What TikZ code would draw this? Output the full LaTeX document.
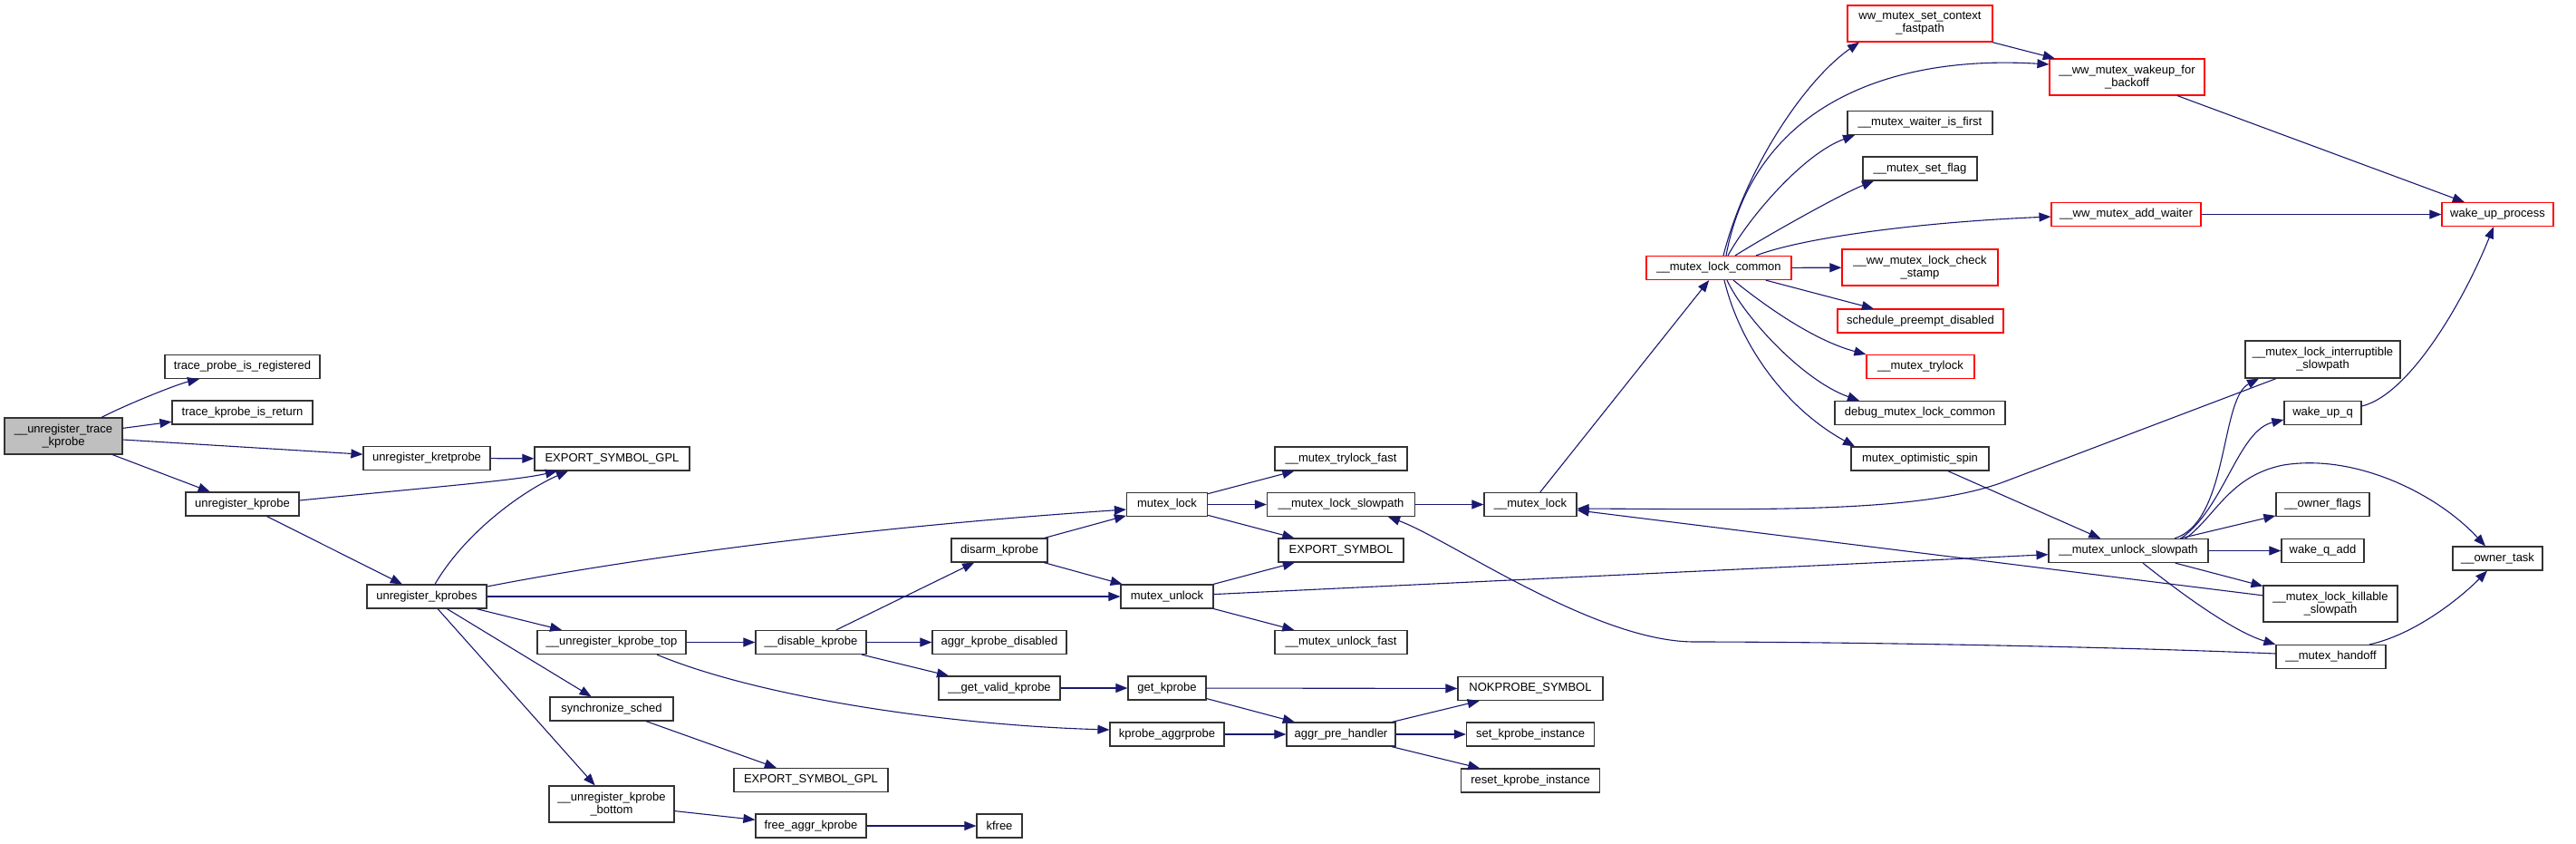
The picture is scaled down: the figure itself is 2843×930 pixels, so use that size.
\documentclass[tikz,border=0pt]{standalone}
\usepackage{fontspec}
\setmainfont{Liberation Sans}
\usepackage{tikz}
\usetikzlibrary{arrows.meta}
\definecolor{EdgeNavy}{RGB}{25,25,112}
\definecolor{RootGray}{RGB}{191,191,191}
\definecolor{NoDocRed}{RGB}{255,0,0}

\begin{document}
\begin{tikzpicture}[x=1pt, y=-1pt,
          fn/.style={rectangle, draw=black!80, line width=1.2pt, fill=white,
                     minimum height=26pt, inner sep=0pt, align=center,
                     font=\fontsize{13}{14}\selectfont},
          fn2/.style={fn, minimum height=40pt},
          nodoc/.style={draw=NoDocRed},
          arr/.style={-{Triangle[length=13pt, width=10pt]}, draw=EdgeNavy,
                      line width=1.1pt}
        ]
        \useasboundingbox (0,0) rectangle (2843,930);

        % caller and first ranks
        \node[fn2, fill=RootGray, minimum width=130pt]
              (utk)    at (70,481)     {\_\_unregister\_trace\\\_kprobe};
        \node[fn, minimum width=171pt] (tpreg)  at (267.5,404.5) {trace\_probe\_is\_registered};
        \node[fn, minimum width=155pt] (tkret)  at (267.5,455)   {trace\_kprobe\_is\_return};
        \node[fn, minimum width=125pt] (urkp)   at (267.5,556)   {unregister\_kprobe};
        \node[fn, minimum width=140pt] (urkret) at (471,505.5)   {unregister\_kretprobe};
        \node[fn, minimum width=132pt] (urkps)  at (471,658)     {unregister\_kprobes};

        \node[fn, minimum width=171pt] (esg1)   at (675.5,506)   {EXPORT\_SYMBOL\_GPL};
        \node[fn, minimum width=164pt] (urtop)  at (675,708.5)   {\_\_unregister\_kprobe\_top};
        \node[fn, minimum width=136pt] (sync)   at (675,782)     {synchronize\_sched};
        \node[fn2, minimum width=138pt]
              (urbot)  at (675,887)     {\_\_unregister\_kprobe\\\_bottom};

        \node[fn, minimum width=122pt] (dis)    at (895,708.5)   {\_\_disable\_kprobe};
        \node[fn, minimum width=170pt] (esg2)   at (895,860.5)   {EXPORT\_SYMBOL\_GPL};
        \node[fn, minimum width=122pt] (faggr)  at (895,911)     {free\_aggr\_kprobe};

        \node[fn, minimum width=106pt] (disarm)  at (1103,607)   {disarm\_kprobe};
        \node[fn, minimum width=148pt] (aggrdis) at (1103,708.5) {aggr\_kprobe\_disabled};
        \node[fn, minimum width=134pt] (gvk)     at (1103,759)   {\_\_get\_valid\_kprobe};
        \node[fn, minimum width=50pt]  (kfree)   at (1103,911)   {kfree};

        \node[fn, minimum width=89pt]  (mlock)   at (1288,556.5) {mutex\_lock};
        \node[fn, minimum width=102pt] (munlock) at (1288,658)   {mutex\_unlock};
        \node[fn, minimum width=86pt]  (getkp)   at (1288,759)   {get\_kprobe};
        \node[fn, minimum width=126pt] (kpaggr)  at (1288,810)   {kprobe\_aggrprobe};

        \node[fn, minimum width=146pt] (mtlf)    at (1480,506)   {\_\_mutex\_trylock\_fast};
        \node[fn, minimum width=163pt] (mlsp)    at (1480,556.5) {\_\_mutex\_lock\_slowpath};
        \node[fn, minimum width=138pt] (es)      at (1480,607)   {EXPORT\_SYMBOL};
        \node[fn, minimum width=146pt] (mulf)    at (1480,708.5) {\_\_mutex\_unlock\_fast};
        \node[fn, minimum width=120pt] (aph)     at (1480,810)   {aggr\_pre\_handler};

        \node[fn, minimum width=102pt] (mlk)     at (1689,556.5) {\_\_mutex\_lock};
        \node[fn, minimum width=160pt] (nok)     at (1689,759.5) {NOKPROBE\_SYMBOL};
        \node[fn, minimum width=141pt] (setki)   at (1689,810)   {set\_kprobe\_instance};
        \node[fn, minimum width=153pt] (resetki) at (1689,861)   {reset\_kprobe\_instance};

        % mutex core
        \node[fn, nodoc, minimum width=160pt] (mlc) at (1897,295.5) {\_\_mutex\_lock\_common};
        \node[fn2, nodoc, minimum width=160pt]
              (wwsc) at (2119,26)    {ww\_mutex\_set\_context\\\_fastpath};
        \node[fn, minimum width=160pt] (mwif)     at (2119,135.5) {\_\_mutex\_waiter\_is\_first};
        \node[fn, minimum width=126pt] (msf)      at (2119,186)   {\_\_mutex\_set\_flag};
        \node[fn2, nodoc, minimum width=172pt]
              (wwcs) at (2119,295)   {\_\_ww\_mutex\_lock\_check\\\_stamp};
        \node[fn, nodoc, minimum width=183pt] (spd) at (2119.5,354) {schedule\_preempt\_disabled};
        \node[fn, nodoc, minimum width=119pt] (mtl) at (2119.5,404.5) {\_\_mutex\_trylock};
        \node[fn, minimum width=188pt] (dmlc)     at (2119,455.5) {debug\_mutex\_lock\_common};
        \node[fn, minimum width=152pt] (mos)      at (2119,506)   {mutex\_optimistic\_spin};

        \node[fn2, nodoc, minimum width=171pt]
              (wwwb) at (2347.5,85)  {\_\_ww\_mutex\_wakeup\_for\\\_backoff};
        \node[fn, nodoc, minimum width=165pt] (wwaw) at (2346.5,236.5) {\_\_ww\_mutex\_add\_waiter};
        \node[fn, minimum width=176pt] (musp)     at (2349,607.5) {\_\_mutex\_unlock\_slowpath};

        \node[fn2, minimum width=171pt, minimum height=41pt]
              (mlis) at (2563.5,396.5) {\_\_mutex\_lock\_interruptible\\\_slowpath};
        \node[fn, minimum width=85pt]  (wuq)      at (2563.5,455.5) {wake\_up\_q};
        \node[fn, minimum width=103pt] (ofl)      at (2563.5,556.5) {\_\_owner\_flags};
        \node[fn, minimum width=91pt]  (wqa)      at (2563.5,607.5) {wake\_q\_add};
        \node[fn2, minimum width=148pt]
              (mlks) at (2572,666)   {\_\_mutex\_lock\_killable\\\_slowpath};
        \node[fn, minimum width=121pt] (mho)      at (2572.5,724.5) {\_\_mutex\_handoff};

        \node[fn, nodoc, minimum width=123pt] (wup) at (2756.5,236.5) {wake\_up\_process};
        \node[fn, minimum width=99pt]  (otask)    at (2756.5,616)   {\_\_owner\_task};

        % straight calls
        \foreach \a/\b in {utk/tkret, utk/urkret, utk/urkp, urkret/esg1, urkp/urkps,
                           urkps/munlock, urkps/urtop, urkps/sync, urkps/urbot,
                           urtop/dis, dis/disarm, dis/aggrdis, dis/gvk, sync/esg2,
                           urbot/faggr, faggr/kfree, disarm/mlock, disarm/munlock,
                           gvk/getkp, kpaggr/aph, getkp/nok, getkp/aph, aph/nok,
                           aph/setki, aph/resetki, mlock/mtlf, mlock/mlsp, mlock/es,
                           munlock/es, munlock/mulf, munlock/musp, mlsp/mlk, mlk/mlc,
                           mlc/wwcs, mlc/spd, wwsc/wwwb, wwwb/wup, wwaw/wup, mos/musp,
                           musp/ofl, musp/wqa, musp/mlks, mlks/mlk}{
          \draw[arr] (\a) -- (\b);
        }

        % curved calls
        \draw[arr] (utk.north -| 112,0) .. controls (140,446) and (195,424) .. (tpreg.south -| 220,0);
        \draw[arr] (urkp.east |- 0,552) .. controls (480,537) and (570,530) .. (esg1.south -| 615,0);
        \draw[arr] (urkps.north -| 480,0) .. controls (515,585) and (580,540) .. (esg1.south -| 627,0);
        \draw[arr] (urkps.east |- 0,647) .. controls (650,625) and (900,585) .. (mlock.west |- 0,562);
        \draw[arr] (urtop.south -| 725,0) .. controls (840,770) and (1050,800) .. (kpaggr.west |- 0,805);

        \draw[arr] (mlc.north -| 1902,0) .. controls (1925,190) and (1990,90) .. (wwsc.south -| 2052,0);
        \draw[arr] (mlc.north -| 1905,0) .. controls (1935,120) and (2080,60) .. (wwwb.west |- 0,71);
        \draw[arr] (mlc.north -| 1907,0) .. controls (1930,240) and (1990,170) .. (mwif.south -| 2047,0);
        \draw[arr] (mlc.north -| 1915,0) .. controls (1950,260) and (2030,215) .. (msf.south -| 2068,0);
        \draw[arr] (mlc.north -| 1938,0) .. controls (1990,262) and (2120,245) .. (wwaw.west |- 0,239);
        \draw[arr] (mlc.south -| 1913,0) .. controls (1945,335) and (2000,375) .. (mtl.north west);
        \draw[arr] (mlc.south -| 1906,0) .. controls (1925,350) and (1990,420) .. (dmlc.north -| 2052,0);
        \draw[arr] (mlc.south -| 1903,0) .. controls (1920,380) and (1970,450) .. (mos.north -| 2047,0);

        \draw[arr] (mlis.south -| 2512,0) -- (2213,531)
                   .. controls (2120,566) and (1950,562) .. (mlk.east |- 0,561);
        \draw[arr] (mho.west |- 0,721) .. controls (2300,712) and (2000,708) .. (1870,708)
                   .. controls (1760,708) and (1600,595) .. (mlsp.south -| 1532,0);

        \draw[arr] (musp.north -| 2400,0) .. controls (2460,575) and (2450,440) .. (mlis.south -| 2493,0);
        \draw[arr] (musp.north -| 2407,0) .. controls (2455,560) and (2470,475) .. (wuq.west |- 0,463);
        \draw[arr] (musp.north -| 2412,0) .. controls (2445,570) and (2460,525) .. (2520,513)
                   .. controls (2600,500) and (2690,545) .. (otask.north -| 2743,0);
        \draw[arr] (musp.south -| 2365,0) .. controls (2395,645) and (2460,695) .. (mho.north west);
        \draw[arr] (wuq.east |- 0,448) .. controls (2660,435) and (2720,330) .. (wup.south -| 2752,0);
        \draw[arr] (mho.north -| 2615,0) .. controls (2665,700) and (2715,660) .. (otask.south -| 2745,0);
      \end{tikzpicture}
\end{document}
